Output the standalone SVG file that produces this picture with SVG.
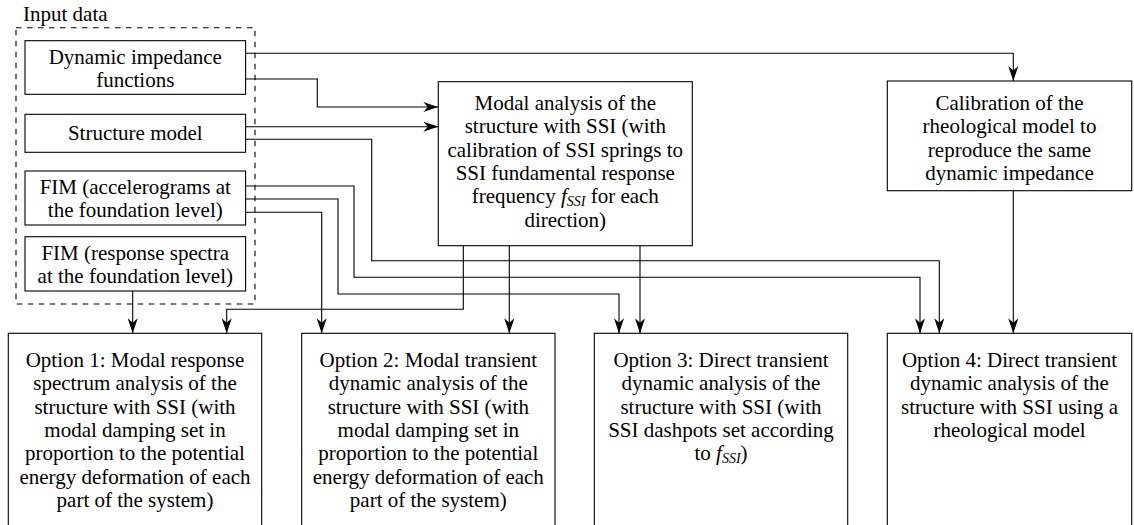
<svg xmlns="http://www.w3.org/2000/svg" width="1134" height="525" viewBox="0 0 1134 525">
<style>
.box{fill:#fff;stroke:#000;stroke-width:1.1}
.dash{fill:none;stroke:#000;stroke-width:1.1;stroke-dasharray:5.5 5.5}
.t{font-family:"Liberation Serif","Times New Roman",serif;font-size:21px;text-anchor:middle;fill:#000}
.lbl{font-family:"Liberation Serif","Times New Roman",serif;font-size:21px;fill:#000}
.c{fill:none;stroke:#000;stroke-width:1.1;marker-end:url(#arr)}
.i{font-style:italic}
.sub{font-style:italic;font-size:14px}
</style>
<defs>
<marker id="arr" viewBox="0 0 15 10" refX="15" refY="5" markerWidth="15" markerHeight="10" markerUnits="userSpaceOnUse" orient="auto">
<path d="M0,0 L15,5 L0,10 L4.5,5 Z" fill="#000"/>
</marker>
</defs>

<g id="input-data">
<rect class="dash" x="16" y="27.7" width="239" height="276.3"/>
<text class="lbl" x="23" y="20.7">Input data</text>
</g>

<g id="connectors">
<path class="c" d="M245.6,53.3 H1013.3 V81"/>
<path class="c" d="M245.6,79 H317.3 V107 H438.3"/>
<path class="c" d="M245.6,126.7 H438.3"/>
<path class="c" d="M245.6,139.3 H371.7 V260.7 H939.3 V333.3"/>
<path class="c" d="M245.6,186 H354 V277.3 H920 V333.3"/>
<path class="c" d="M245.6,199 H338 V294 H619 V333.3"/>
<path class="c" d="M245.6,212.3 H321.7 V333.3"/>
<path class="c" d="M132.7,291 V333.3"/>
<path class="c" d="M463.3,245.7 V309.3 H226.7 V333.3"/>
<path class="c" d="M509.3,245.7 V333.3"/>
<path class="c" d="M640,245.7 V333.3"/>
<path class="c" d="M1013.3,190.7 V333.3"/>
</g>

<g id="dyn-impedance">
<rect class="box" x="25" y="40.7" width="220.6" height="53.6"/>
<text class="t" x="135.3" y="63.5">Dynamic impedance</text>
<text class="t" x="135.3" y="86.5">functions</text>
</g>

<g id="structure-model">
<rect class="box" x="25" y="114.3" width="220.6" height="38"/>
<text class="t" x="135.3" y="140">Structure model</text>
</g>

<g id="fim-accelerograms">
<rect class="box" x="25" y="171" width="220.6" height="54"/>
<text class="t" x="135.3" y="194">FIM (accelerograms at</text>
<text class="t" x="135.3" y="216.7">the foundation level)</text>
</g>

<g id="fim-spectra">
<rect class="box" x="25" y="236.7" width="220.6" height="54.3"/>
<text class="t" x="135.3" y="259.5">FIM (response spectra</text>
<text class="t" x="135.3" y="282.5">at the foundation level)</text>
</g>

<g id="modal-analysis">
<rect class="box" x="438.3" y="81.7" width="254" height="164"/>
<text class="t" x="565.3" y="110">Modal analysis of the</text>
<text class="t" x="565.3" y="133.3">structure with SSI (with</text>
<text class="t" x="565.3" y="156.7">calibration of SSI springs to</text>
<text class="t" x="565.3" y="180">SSI fundamental response</text>
<text class="t" x="565.3" y="203.3">frequency <tspan class="i">f</tspan><tspan class="sub" dy="3">SSI</tspan><tspan dy="-3"> for each</tspan></text>
<text class="t" x="565.3" y="226.7">direction)</text>
</g>

<g id="calibration">
<rect class="box" x="887.3" y="81" width="244.4" height="109.7"/>
<text class="t" x="1009.5" y="110">Calibration of the</text>
<text class="t" x="1009.5" y="133.3">rheological model to</text>
<text class="t" x="1009.5" y="156.7">reproduce the same</text>
<text class="t" x="1009.5" y="180">dynamic impedance</text>
</g>

<g id="option1">
<rect class="box" x="8.3" y="333.3" width="253.4" height="200"/>
<text class="t" x="135" y="367">Option 1: Modal response</text>
<text class="t" x="135" y="390.3">spectrum analysis of the</text>
<text class="t" x="135" y="413.7">structure with SSI (with</text>
<text class="t" x="135" y="437">modal damping set in</text>
<text class="t" x="135" y="460.3">proportion to the potential</text>
<text class="t" x="135" y="483.7">energy deformation of each</text>
<text class="t" x="135" y="507">part of the system)</text>
</g>

<g id="option2">
<rect class="box" x="301.7" y="333.3" width="253.3" height="200"/>
<text class="t" x="428.3" y="367">Option 2: Modal transient</text>
<text class="t" x="428.3" y="390.3">dynamic analysis of the</text>
<text class="t" x="428.3" y="413.7">structure with SSI (with</text>
<text class="t" x="428.3" y="437">modal damping set in</text>
<text class="t" x="428.3" y="460.3">proportion to the potential</text>
<text class="t" x="428.3" y="483.7">energy deformation of each</text>
<text class="t" x="428.3" y="507">part of the system)</text>
</g>

<g id="option3">
<rect class="box" x="594.3" y="333.3" width="253.4" height="200"/>
<text class="t" x="721" y="367">Option 3: Direct transient</text>
<text class="t" x="721" y="390.3">dynamic analysis of the</text>
<text class="t" x="721" y="413.7">structure with SSI (with</text>
<text class="t" x="721" y="437">SSI dashpots set according</text>
<text class="t" x="721" y="460.3">to <tspan class="i">f</tspan><tspan class="sub" dy="3">SSI</tspan><tspan dy="-3">)</tspan></text>
</g>

<g id="option4">
<rect class="box" x="887.3" y="333.3" width="244.4" height="200"/>
<text class="t" x="1009.5" y="367">Option 4: Direct transient</text>
<text class="t" x="1009.5" y="390.3">dynamic analysis of the</text>
<text class="t" x="1009.5" y="413.7">structure with SSI using a</text>
<text class="t" x="1009.5" y="437">rheological model</text>
</g>
</svg>
